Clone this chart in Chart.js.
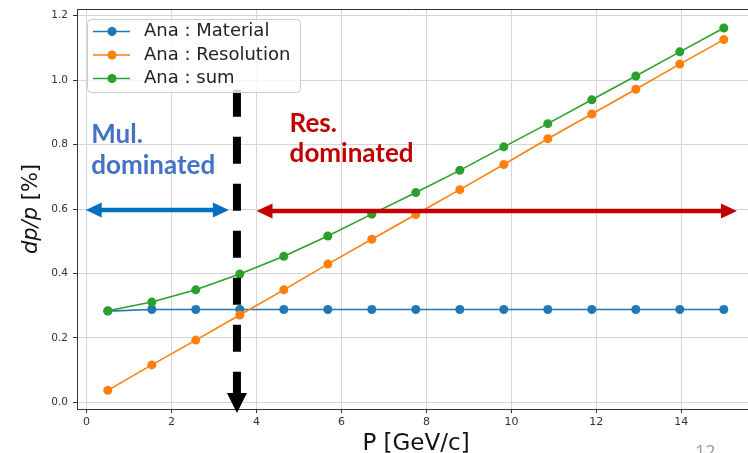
<!DOCTYPE html>
<html>
<head>
<meta charset="utf-8">
<script src="https://cdn.jsdelivr.net/npm/chart.js@4.4.1/dist/chart.umd.min.js"></script>
<style>
  html, body { margin: 0; padding: 0; background: #fff; overflow: hidden; }
  #wrap { width: 748px; height: 453px; }
</style>
</head>
<body>
<div id="wrap"><canvas id="chart" width="748" height="453"></canvas></div>
<script>
// momentum points (GeV/c)
const momentum = [0.5, 1.536, 2.571, 3.607, 4.643, 5.679, 6.714, 7.75, 8.786, 9.821, 10.857, 11.893, 12.929, 13.964, 15.0];

// dp/p in %
const material   = [0.283, 0.288, 0.288, 0.288, 0.288, 0.288, 0.288, 0.288, 0.288, 0.288, 0.288, 0.288, 0.288, 0.288, 0.288];
const resolution = [0.037, 0.116, 0.193, 0.271, 0.349, 0.429, 0.506, 0.583, 0.660, 0.738, 0.818, 0.895, 0.972, 1.050, 1.126];
const total      = [0.284, 0.311, 0.349, 0.398, 0.453, 0.516, 0.584, 0.651, 0.720, 0.793, 0.865, 0.939, 1.013, 1.088, 1.162];

const seriesNames  = ["Ana : Material", "Ana : Resolution", "Ana : sum"];
const seriesColors = ["#1f77b4", "#ff7f0e", "#2ca02c"];

const xTicks = [0, 2, 4, 6, 8, 10, 12, 14];
const yTicks = [0, 0.2, 0.4, 0.6, 0.8, 1.0, 1.2];
const yTickLabels = ["0.0", "0.2", "0.4", "0.6", "0.8", "1.0", "1.2"];

// annotation anchors, in data units
const splitP = 3.54;          // dashed divider
const splitTop = 0.97;
const arrowLevel = 0.597;
const mulRange = [-0.02, 3.35];
const resRange = [4.0, 15.31];

const toPoints = (ys) => ys.map((y, i) => ({ x: momentum[i], y: y }));

function hArrow(ctx, x1, x2, y, color) {
    const head = 16, half = 7.5;
    ctx.strokeStyle = color;
    ctx.fillStyle = color;
    ctx.lineWidth = 4.5;
    ctx.beginPath();
    ctx.moveTo(x1 + head - 1, y);
    ctx.lineTo(x2 - head + 1, y);
    ctx.stroke();
    ctx.beginPath();
    ctx.moveTo(x1, y); ctx.lineTo(x1 + head, y - half); ctx.lineTo(x1 + head, y + half);
    ctx.closePath(); ctx.fill();
    ctx.beginPath();
    ctx.moveTo(x2, y); ctx.lineTo(x2 - head, y - half); ctx.lineTo(x2 - head, y + half);
    ctx.closePath(); ctx.fill();
}

// no extra room around the plot for edge tick labels
const noPad = (s) => { s.paddingLeft = 0; s.paddingRight = 0; s.paddingTop = 0; s.paddingBottom = 0; };

const overlay = {
    id: "overlay",
    afterDatasetsDraw(chart) {
        const ctx = chart.ctx;
        const xs = chart.scales.x, ys = chart.scales.y;
        ctx.save();

        // black dashed divider with arrow head
        const px = xs.getPixelForValue(splitP);
        const top = ys.getPixelForValue(splitTop);
        const base = chart.chartArea.bottom - 16;
        ctx.strokeStyle = "#000";
        ctx.lineWidth = 8;
        ctx.setLineDash([27, 20]);
        ctx.beginPath();
        ctx.moveTo(px, top);
        ctx.lineTo(px, base);
        ctx.stroke();
        ctx.setLineDash([]);
        ctx.fillStyle = "#000";
        ctx.beginPath();
        ctx.moveTo(px - 10, base);
        ctx.lineTo(px + 10, base);
        ctx.lineTo(px, base + 20);
        ctx.closePath();
        ctx.fill();

        // region arrows
        const ay = ys.getPixelForValue(arrowLevel);
        hArrow(ctx, xs.getPixelForValue(mulRange[0]), xs.getPixelForValue(mulRange[1]), ay, "#0070c0");
        hArrow(ctx, xs.getPixelForValue(resRange[0]), xs.getPixelForValue(resRange[1]), ay + 1, "#c00000");

        // region labels
        ctx.font = "bold 26px Lato";
        ctx.textBaseline = "alphabetic";
        ctx.textAlign = "left";
        ctx.fillStyle = "#4472c4";
        ctx.fillText("Mul.", xs.getPixelForValue(0.11), ys.getPixelForValue(0.804));
        ctx.fillText("dominated", xs.getPixelForValue(0.11), ys.getPixelForValue(0.709));
        ctx.fillStyle = "#c00000";
        ctx.fillText("Res.", xs.getPixelForValue(4.78), ys.getPixelForValue(0.840));
        ctx.fillText("dominated", xs.getPixelForValue(4.78), ys.getPixelForValue(0.747));
        ctx.restore();
    },
    afterDraw(chart) {
        const ctx = chart.ctx;
        const area = chart.chartArea;
        ctx.save();

        // top spine
        ctx.strokeStyle = "#333";
        ctx.lineWidth = 1;
        ctx.beginPath();
        ctx.moveTo(area.left, area.top + 0.5);
        ctx.lineTo(area.right, area.top + 0.5);
        ctx.stroke();

        // legend box
        const lx = 87, ly = 19, lw = 213, lh = 73;
        ctx.fillStyle = "rgba(255,255,255,0.8)";
        ctx.strokeStyle = "#cccccc";
        ctx.beginPath();
        ctx.roundRect(lx + 0.5, ly + 0.5, lw, lh, 4);
        ctx.fill();
        ctx.stroke();
        const rows = [31.5, 55, 78.5];
        chart.data.datasets.forEach((ds, i) => {
            const y = rows[i];
            ctx.strokeStyle = ds.borderColor;
            ctx.lineWidth = 1.6;
            ctx.beginPath();
            ctx.moveTo(93, y);
            ctx.lineTo(130, y);
            ctx.stroke();
            ctx.fillStyle = ds.borderColor;
            ctx.beginPath();
            ctx.arc(112, y, 4.5, 0, Math.PI * 2);
            ctx.fill();
            ctx.fillStyle = "#222";
            ctx.font = "18px 'DejaVu Sans'";
            ctx.textBaseline = "middle";
            ctx.textAlign = "left";
            ctx.fillText(ds.label, 144, y);
        });

        // axis titles
        ctx.fillStyle = "#111";
        ctx.textBaseline = "alphabetic";
        ctx.textAlign = "center";
        ctx.font = "23px 'DejaVu Sans'";
        ctx.fillText("P [GeV/c]", 416, 450);

        ctx.translate(36.5, 209);
        ctx.rotate(-Math.PI / 2);
        ctx.font = "italic 21px 'DejaVu Sans'";
        const w1 = ctx.measureText("dp/p").width;
        ctx.font = "21px 'DejaVu Sans'";
        const w2 = ctx.measureText(" [%]").width;
        ctx.textAlign = "left";
        ctx.font = "italic 21px 'DejaVu Sans'";
        ctx.fillText("dp/p", -(w1 + w2) / 2, 0);
        ctx.font = "21px 'DejaVu Sans'";
        ctx.fillText(" [%]", -(w1 + w2) / 2 + w1, 0);
        ctx.setTransform(1, 0, 0, 1, 0, 0);

        // slide number, cut at the bottom edge
        ctx.fillStyle = "#9a9a9a";
        ctx.font = "18px 'Open Sans'";
        ctx.textAlign = "left";
        ctx.fillText("12", 695, 458);
        ctx.restore();
    }
};

const lineSet = (label, ys, color, order) => ({
    label: label,
    data: toPoints(ys),
    borderColor: color,
    backgroundColor: color,
    borderWidth: 1.6,
    pointRadius: 4.5,
    pointBorderWidth: 0,
    pointBackgroundColor: color,
    tension: 0,
    order: order
});

new Chart(document.getElementById("chart"), {
    type: "line",
    data: {
        datasets: [
            lineSet(seriesNames[0], material, seriesColors[0], 3),
            lineSet(seriesNames[1], resolution, seriesColors[1], 2),
            lineSet(seriesNames[2], total, seriesColors[2], 1)
        ]
    },
    plugins: [overlay],
    options: {
        responsive: false,
        animation: false,
        layout: { autoPadding: false, padding: { top: 9, right: 0, bottom: 0, left: 0 } },
        plugins: { legend: { display: false }, tooltip: { enabled: false } },
        scales: {
            x: {
                type: "linear",
                min: -0.225,
                max: 15.57,
                afterBuildTicks: (s) => { s.ticks = xTicks.map(v => ({ value: v })); },
                afterFit: (s) => { s.height = 44; noPad(s); },
                grid: { color: "#d6d6d6", lineWidth: 1, tickLength: 4, tickColor: "#333" },
                border: { color: "#333", width: 1 },
                ticks: {
                    callback: (v) => String(v),
                    font: { family: "DejaVu Sans", size: 11 },
                    color: "#333",
                    padding: 3,
                    maxRotation: 0
                }
            },
            y: {
                type: "linear",
                min: -0.021,
                max: 1.221,
                afterBuildTicks: (s) => { s.ticks = yTicks.map(v => ({ value: v })); },
                afterFit: (s) => { s.width = 77; noPad(s); },
                grid: { color: "#d6d6d6", lineWidth: 1, tickLength: 4, tickColor: "#333" },
                border: { color: "#333", width: 1 },
                ticks: {
                    callback: (v) => yTickLabels[yTicks.findIndex(t => Math.abs(t - v) < 1e-9)],
                    font: { family: "DejaVu Sans", size: 10.5 },
                    color: "#333",
                    padding: 5
                }
            }
        }
    }
});
</script>
</body>
</html>
